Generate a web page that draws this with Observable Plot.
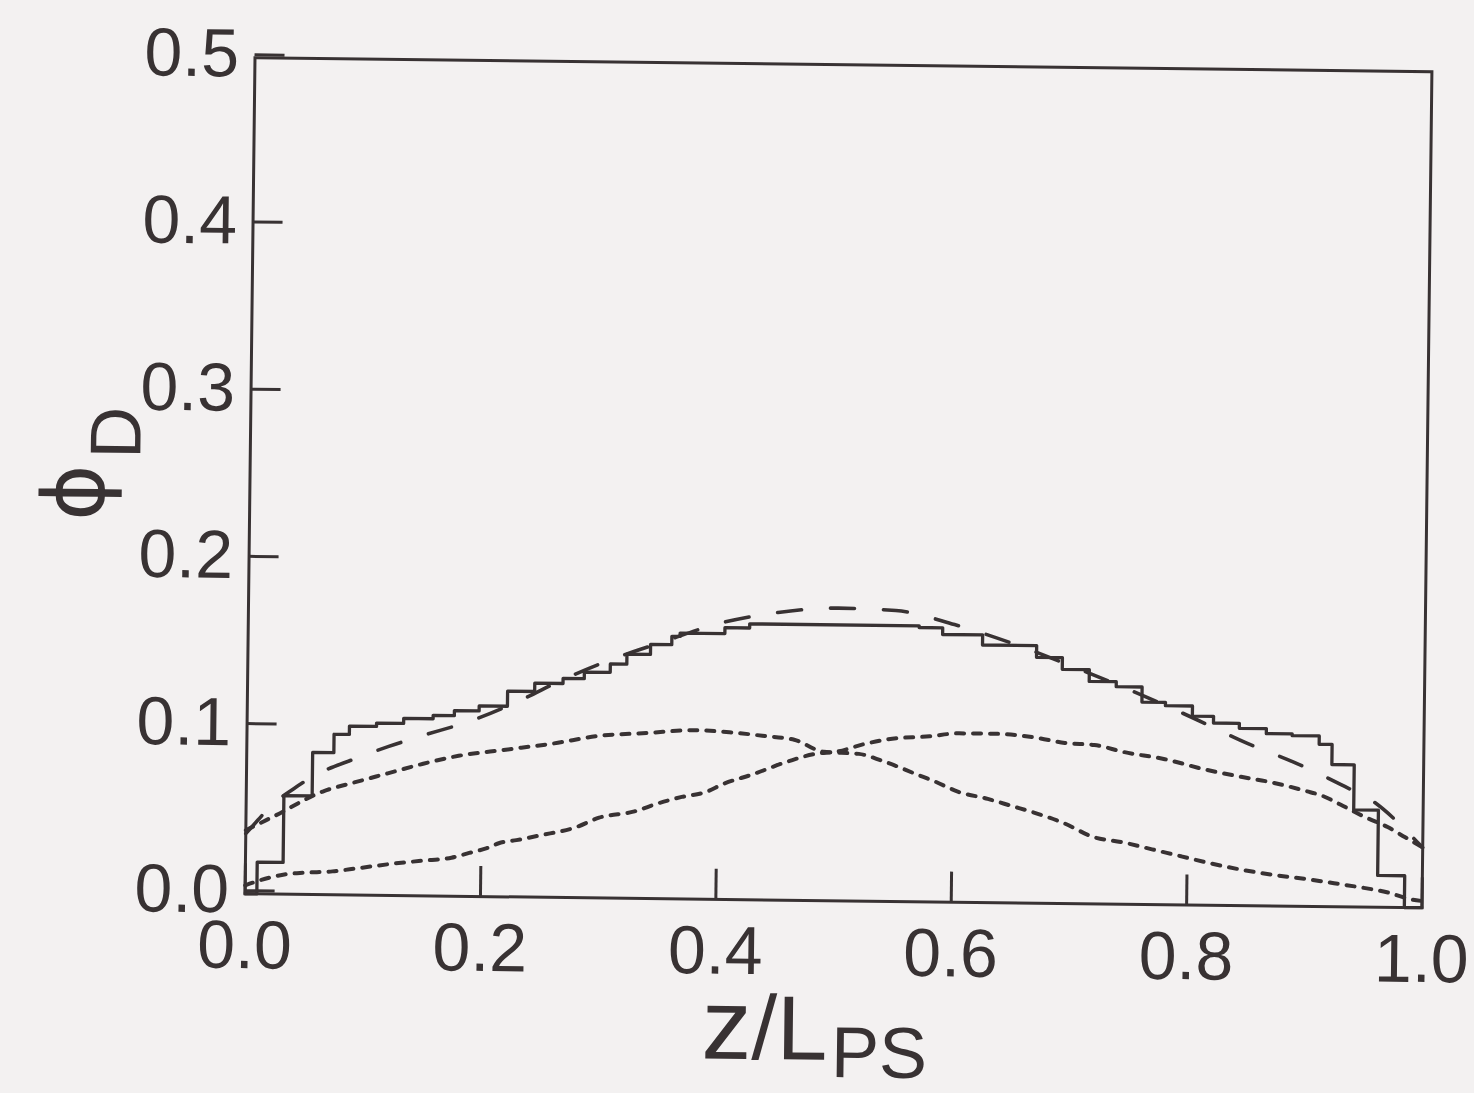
<!DOCTYPE html>
<html><head><meta charset="utf-8">
<script src="https://cdn.jsdelivr.net/npm/d3@7"></script>
<script src="https://cdn.jsdelivr.net/npm/@observablehq/plot@0.6"></script>
<style>
html,body{margin:0;padding:0;background:#f3f1f1;}
#chart svg{display:block;overflow:visible;transform:rotate(0.68deg);transform-origin:838px 482px;}
</style></head><body><div id="chart"></div>
<script>
const xTicks = [0, 0.2, 0.4, 0.6, 0.8, 1.0];
const yTicks = [0, 0.1, 0.2, 0.3, 0.4, 0.5];
const xLabel = ["z", "/L", "PS"];
const yLabel = ["ϕ", "D"];

// solid histogram (step)
const solidZ =   [0, 0.010, 0.032, 0.056, 0.074, 0.087, 0.110, 0.133, 0.158, 0.176, 0.197, 0.221, 0.244, 0.268, 0.286, 0.308, 0.322, 0.342, 0.360, 0.367, 0.405, 0.426, 0.570, 0.590, 0.624, 0.670, 0.692, 0.715, 0.738, 0.760, 0.780, 0.803, 0.821, 0.843, 0.866, 0.888, 0.911, 0.922, 0.941, 0.962, 0.985, 1.0];
const solidPhi = [0.000, 0.019, 0.059, 0.085, 0.096, 0.101, 0.103, 0.106, 0.108, 0.111, 0.114, 0.123, 0.128, 0.131, 0.135, 0.140, 0.146, 0.152, 0.157, 0.159, 0.1625, 0.165, 0.164, 0.160, 0.154, 0.147, 0.140, 0.133, 0.130, 0.121, 0.119, 0.113, 0.109, 0.106, 0.103, 0.102, 0.097, 0.085, 0.058, 0.019, 0.000, 0.000];

// long-dashed curve
const dashZ =   [0, 0.01, 0.02, 0.04, 0.06, 0.09, 0.12, 0.15, 0.19, 0.23, 0.27, 0.31, 0.35, 0.40, 0.45, 0.50, 0.55, 0.60, 0.65, 0.70, 0.75, 0.80, 0.85, 0.89, 0.93, 0.96, 0.98, 0.99, 1.0];
const dashPhi = [0.036, 0.044, 0.052, 0.063, 0.072, 0.081, 0.089, 0.096, 0.105, 0.117, 0.131, 0.143, 0.153, 0.165, 0.172, 0.175, 0.174, 0.166, 0.155, 0.142, 0.128, 0.113, 0.097, 0.086, 0.073, 0.062, 0.050, 0.043, 0.036];

// dotted curve A (peak on left)
const dotAZ =   [0, 0.025, 0.066, 0.09, 0.12, 0.15, 0.18, 0.22, 0.26, 0.30, 0.34, 0.38, 0.41, 0.44, 0.465, 0.49, 0.52, 0.54, 0.57, 0.585, 0.605, 0.63, 0.65, 0.67, 0.695, 0.72, 0.745, 0.77, 0.795, 0.82, 0.85, 0.88, 0.905, 0.925, 0.945, 0.97, 0.99, 1.0];
const dotAPhi = [0.038, 0.047, 0.062, 0.067, 0.073, 0.079, 0.084, 0.088, 0.092, 0.097, 0.099, 0.101, 0.100, 0.098, 0.096, 0.089, 0.088, 0.084, 0.076, 0.072, 0.066, 0.062, 0.058, 0.054, 0.048, 0.040, 0.037, 0.033, 0.029, 0.025, 0.021, 0.018, 0.016, 0.014, 0.012, 0.009, 0.005, 0.004];

// dotted curve B (peak on right)
const dotBZ =   [0, 0.012, 0.035, 0.05, 0.074, 0.095, 0.125, 0.15, 0.175, 0.19, 0.205, 0.215, 0.23, 0.25, 0.28, 0.30, 0.33, 0.35, 0.37, 0.39, 0.405, 0.43, 0.46, 0.485, 0.50, 0.525, 0.545, 0.58, 0.605, 0.635, 0.67, 0.695, 0.72, 0.745, 0.78, 0.815, 0.845, 0.87, 0.90, 0.915, 0.93, 0.95, 0.97, 0.985, 1.0];
const dotBPhi = [0.005, 0.008, 0.012, 0.013, 0.014, 0.016, 0.019, 0.021, 0.023, 0.026, 0.029, 0.032, 0.034, 0.037, 0.042, 0.048, 0.052, 0.057, 0.061, 0.064, 0.069, 0.075, 0.083, 0.088, 0.089, 0.094, 0.097, 0.099, 0.101, 0.101, 0.099, 0.096, 0.095, 0.091, 0.087, 0.081, 0.077, 0.074, 0.069, 0.066, 0.061, 0.054, 0.048, 0.042, 0.036];

const toRows = (zs, ps) => zs.map((z, i) => ({z, phi: ps[i]}));
const solid = toRows(solidZ, solidPhi);
const dashed = toRows(dashZ, dashPhi);
const dotA = toRows(dotAZ, dotAPhi);
const dotB = toRows(dotBZ, dotBPhi);

const ink = "#383233";
const W = 1474, H = 1093;
const mL = 249.5, mR = 47.5, mT = 64.25, mB = 192.75;

const plot = Plot.plot({
  width: W, height: H,
  marginLeft: mL, marginRight: mR, marginTop: mT, marginBottom: mB,
  style: {fontFamily: "'Liberation Sans', Arial, sans-serif", fontSize: "68px", color: ink, background: "transparent", overflow: "visible"},
  x: {domain: [0, 1]},
  y: {domain: [0, 0.5]},
  marks: [
    Plot.line(dotA, {x: "z", y: "phi", stroke: ink, strokeWidth: 4, strokeDasharray: "8,9", curve: "monotone-x"}),
    Plot.line(dotB, {x: "z", y: "phi", stroke: ink, strokeWidth: 4, strokeDasharray: "8,9", curve: "monotone-x"}),
    Plot.line(dashed, {x: "z", y: "phi", stroke: ink, strokeWidth: 3.6, strokeDasharray: "24,29", curve: "monotone-x"}),
    Plot.line(solid, {x: "z", y: "phi", stroke: ink, strokeWidth: 3.3, curve: "step-after"}),
    Plot.axisX(xTicks, {tickSize: -30, tickPadding: 56, strokeWidth: 3, tickFormat: d => d.toFixed(1), fontSize: 68, label: null}),
    Plot.axisY(yTicks, {tickSize: -30, tickPadding: 46, strokeWidth: 3, tickFormat: d => d.toFixed(1), fontSize: 68, dy: -3, label: null}),
    Plot.frame({stroke: ink, strokeWidth: 3})
  ]
});

const svg = d3.select(plot);
const xt = svg.append("text")
  .attr("x", 708).attr("y", 1060)
  .attr("text-anchor", "start")
  .attr("fill", ink)
  .attr("font-family", "'Liberation Sans', Arial, sans-serif")
  .attr("font-size", 91);
xt.append("tspan").attr("font-size", 100).text(xLabel[0]);
xt.append("tspan").text(xLabel[1]);
xt.append("tspan").attr("font-size", 72).attr("dy", 17).attr("dx", 4).text(xLabel[2]);

const yt = svg.append("text")
  .attr("transform", "translate(104,530) rotate(-90)")
  .attr("text-anchor", "start")
  .attr("fill", ink)
  .attr("font-family", "'DejaVu Sans', sans-serif")
  .attr("font-size", 86);
yt.append("tspan").text(yLabel[0]);
yt.append("tspan").attr("font-family", "'Liberation Sans', Arial, sans-serif").attr("font-size", 72).attr("dy", 36).attr("dx", 6).text(yLabel[1]);

document.getElementById("chart").appendChild(plot);
</script></body></html>
